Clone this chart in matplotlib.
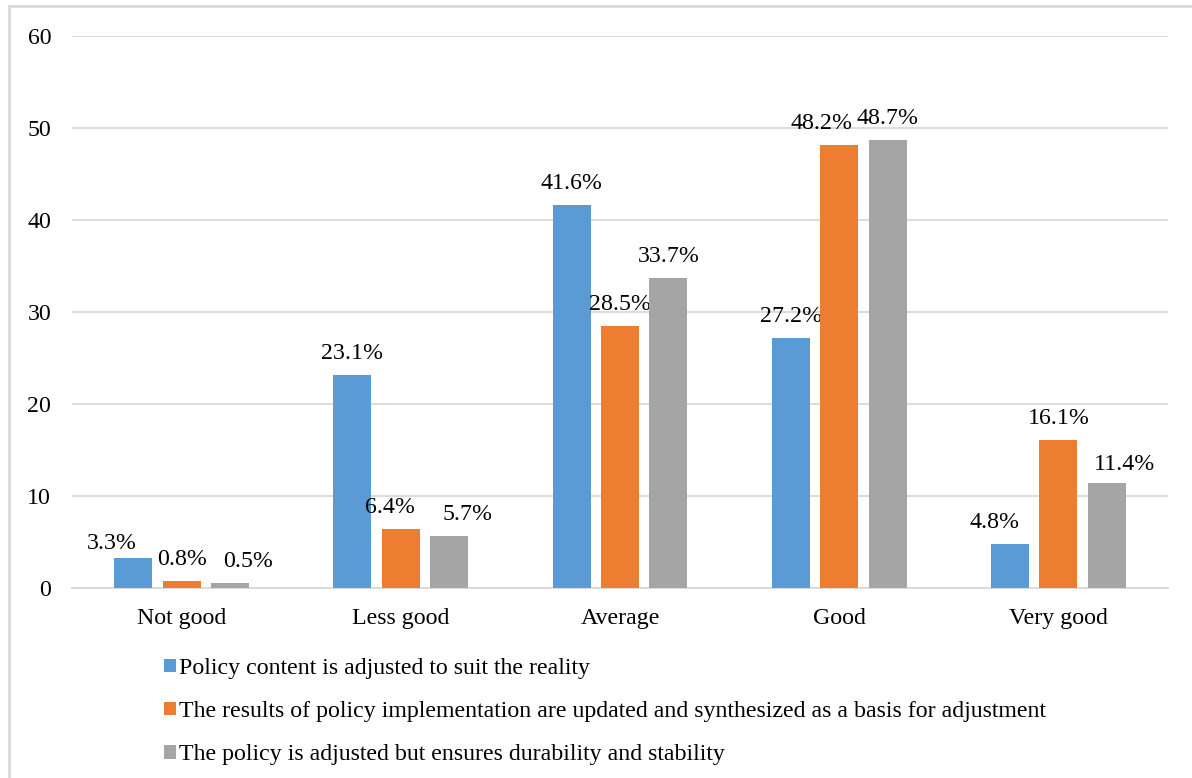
import matplotlib
matplotlib.use("Agg")
import matplotlib.pyplot as plt
import numpy as np
from matplotlib.lines import Line2D
from matplotlib.patches import Patch

categories = ["Not good", "Less good", "Average", "Good", "Very good"]
series_names = [
    "Policy content is adjusted to suit the reality",
    "The results of policy implementation are updated and synthesized as a basis for adjustment",
    "The policy is adjusted but ensures durability and stability",
]
content_adjusted = [3.3, 23.1, 41.6, 27.2, 4.8]
results_updated = [0.8, 6.4, 28.5, 48.2, 16.1]
durability = [0.5, 5.7, 33.7, 48.7, 11.4]
yticks = [0, 10, 20, 30, 40, 50, 60]

colors = ["#5B9BD5", "#ED7D31", "#A5A5A5"]
# label nudges in pixels (Excel moved some labels to avoid overlap)
label_dx = [[-21, 0, 0, 0, -15], [0, -11, 0, -18, 0], [18, 18, 0, 0, 18]]
label_dy = [[-7, 0, 0, 0, 0], [0, 0, 0, 0, 0], [0, 0, 0, 0, -3]]

plt.rcParams['font.family'] = ['Liberation Serif', 'DejaVu Serif']
fs = 17.2

fig = plt.figure(figsize=(11.92, 7.78), dpi=100)
ax = fig.add_axes([72 / 1192, 1 - 588 / 778, (1168 - 72) / 1192, (588 - 36) / 778])

x = np.arange(len(categories))
width = 0.173
step = 0.221
all_series = [content_adjusted, results_updated, durability]
for i, vals in enumerate(all_series):
    pos = x + (i - 1) * step
    ax.bar(pos, vals, width, color=colors[i], zorder=3)
    for j, v in enumerate(vals):
        ax.annotate(f"{v:.1f}%", (pos[j], v),
                    xytext=(label_dx[i][j], 16 + label_dy[i][j]),
                    textcoords='offset pixels', ha='center', va='baseline',
                    fontsize=fs, color='#000000')

ax.set_xlim(-0.5, len(categories) - 0.5)
ax.set_ylim(0, 60)
ax.set_yticks(yticks)
ax.set_xticks(x)
ax.set_xticklabels(categories, fontsize=fs)
ax.tick_params(axis='y', labelsize=fs, length=0, pad=15)
ax.tick_params(axis='x', length=0, pad=14.5)
ax.yaxis.grid(True, color='#D9D9D9', linewidth=1.3, zorder=0)
for s in ['top', 'right', 'left']:
    ax.spines[s].set_visible(False)
ax.spines['bottom'].set_color('#D9D9D9')
ax.spines['bottom'].set_linewidth(1.3)

handles = [Patch(facecolor=c, edgecolor='none') for c in colors]
fig.legend(handles, series_names, loc='upper left',
           bbox_to_anchor=(152 / 1192, 1 - 646 / 778), frameon=False,
           fontsize=fs, handlelength=0.5, handleheight=0.5,
           handletextpad=0.15, labelspacing=0.93, borderpad=0)

# outer chart border
fig.add_artist(Line2D([9 / 1192, 9 / 1192], [0, 1 - 6 / 778], color='#D9D9D9', lw=2))
fig.add_artist(Line2D([9 / 1192, 1], [1 - 6 / 778, 1 - 6 / 778], color='#D9D9D9', lw=2))

fig.savefig("out.png", dpi=100)
